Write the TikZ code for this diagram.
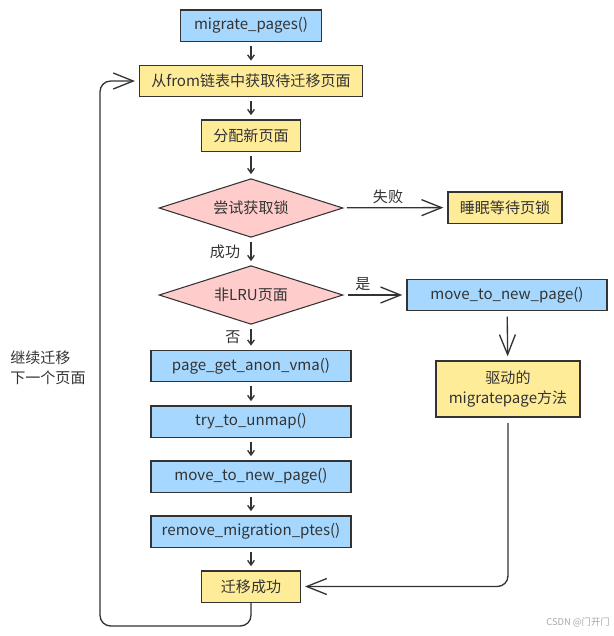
\documentclass[tikz,border=0pt]{standalone}
\usepackage{fontspec}
\setmainfont{Noto Sans CJK SC}
\usetikzlibrary{shapes.geometric,arrows.meta}
\definecolor{boxblue}{RGB}{166,216,255}
\definecolor{boxyellow}{RGB}{255,236,153}
\definecolor{boxpink}{RGB}{255,204,204}
\definecolor{edgegray}{RGB}{51,51,51}
\tikzset{
    every node/.style={font=\fontsize{11.3}{15}\selectfont, text=edgegray},
    proc/.style={rectangle, draw=edgegray, line width=1pt, inner sep=0mm, minimum height=23.5pt},
    bluebox/.style={proc, fill=boxblue},
    yellowbox/.style={proc, fill=boxyellow},
    decision/.style={diamond, aspect=3.2, draw=edgegray, fill=boxpink, line width=0.8pt, inner sep=0mm, minimum width=138pt, minimum height=44pt},
    flow/.style={draw=edgegray, line width=1pt, shorten <=3pt, shorten >=3pt, -{Straight Barb[length=3.5pt,width=5pt]}},
    bigflow/.style={draw=edgegray, line width=1pt, rounded corners=8pt, shorten >=3pt, -{Straight Barb[length=15pt,width=12pt]}}
}

\begin{document}
\begin{tikzpicture}[x=0.75pt, y=-0.75pt]
        \useasboundingbox (0,0) rectangle (614,636);
        \node (mig) [bluebox, minimum width=106pt] at (251, 25.5) {migrate\_pages()};
        \node (pick) [yellowbox, minimum width=167pt] at (251, 81) {从from链表中获取待迁移页面};
        \node (alloc) [yellowbox, minimum width=74pt] at (251, 135.5) {分配新页面};
        \node (lock) [decision] at (251, 208) {尝试获取锁};
        \node (sleep) [yellowbox, minimum width=85.5pt] at (505, 207.5) {睡眠等待页锁};
        \node (nonlru) [decision] at (251, 295) {非LRU页面};
        \node (movedrv) [bluebox, minimum width=150pt] at (507, 295) {move\_to\_new\_page()};
        \node (drv) [yellowbox, minimum width=108pt, minimum height=42pt, align=center] at (508, 389) {驱动的\\migratepage方法};
        \node (anon) [bluebox, minimum width=150pt] at (251, 366) {page\_get\_anon\_vma()};
        \node (unmap) [bluebox, minimum width=150pt] at (251, 421.5) {try\_to\_unmap()};
        \node (movenew) [bluebox, minimum width=150pt] at (251, 476.5) {move\_to\_new\_page()};
        \node (rmpte) [bluebox, minimum width=150pt] at (251, 531.5) {remove\_migration\_ptes()};
        \node (done) [yellowbox, minimum width=74pt] at (251, 586.5) {迁移成功};
        % labels on the connectors
        \node (fail) at (388, 197) {失败};
        \node (ok) at (225, 252) {成功};
        \node (yes) at (363, 284) {是};
        \node (no) at (233, 337) {否};
        \node (again) [anchor=west, align=left, inner sep=0mm] at (10, 368) {继续迁移\\下一个页面};
        \node (mark) [anchor=east, inner sep=0mm, font=\fontsize{7}{8}\selectfont, text=black!35] at (610, 622) {CSDN @门开门};
        \coordinate (loopbot) at (100, 626);
        % main column
        \draw (mig) edge [flow] (pick);
        \draw (pick) edge [flow] (alloc);
        \draw (alloc) edge [flow] (lock);
        \draw (lock) edge [flow] (nonlru);
        \draw (nonlru) edge [flow] (anon);
        \draw (anon) edge [flow] (unmap);
        \draw (unmap) edge [flow] (movenew);
        \draw (movenew) edge [flow] (rmpte);
        \draw (rmpte) edge [flow] (done);
        % side branches
        \draw [bigflow, shorten <=3pt] (lock) -- (sleep);
        \draw [bigflow, shorten <=3pt] (nonlru) -- (movedrv);
        \draw [bigflow, shorten <=4pt] (movedrv) -- (drv);
        \draw [bigflow, shorten <=4pt] (drv.south) |- (done.east);
        \draw [bigflow] (done.south) |- (loopbot) |- (pick.west);
\end{tikzpicture}
\end{document}
